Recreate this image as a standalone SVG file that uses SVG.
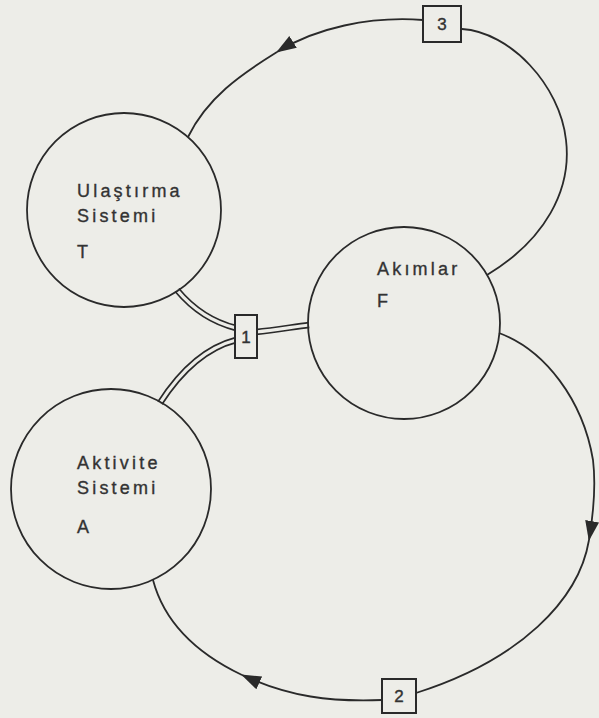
<svg xmlns="http://www.w3.org/2000/svg" width="599" height="718" viewBox="0 0 599 718">
<style>
.bg{fill:#edede8}
.node{fill:none;stroke:#2a2a2a;stroke-width:1.8}
.lbl{font-family:"Liberation Sans","DejaVu Sans",sans-serif;font-size:18px;letter-spacing:3.2px;fill:#333;stroke:#333;stroke-width:0.35}
.arc{fill:none;stroke:#2a2a2a;stroke-width:1.8}
.dblo{fill:none;stroke:#2a2a2a;stroke-width:6.5}
.dbli{fill:none;stroke:#edede8;stroke-width:3.2}
.box{fill:#edede8;stroke:#2a2a2a;stroke-width:2}
.num{font-family:"Liberation Sans","DejaVu Sans",sans-serif;font-size:17px;fill:#333;stroke:#333;stroke-width:0.4;text-anchor:middle}
</style>
<defs>
<marker id="ah" markerUnits="userSpaceOnUse" markerWidth="24" markerHeight="16" refX="19" refY="7" orient="auto">
<path d="M0,0 L20,7 L0,14 Z" fill="#2a2a2a"/>
</marker>
</defs>
<rect class="bg" x="0" y="0" width="599" height="718"/>
<g id="connectors">
<path class="dblo" d="M 177 290 C 192 308, 212 322, 236 328"/>
<path class="dbli" d="M 177 290 C 192 308, 212 322, 236 328"/>
<path class="dblo" d="M 160 403 C 180 372, 205 348, 236 340"/>
<path class="dbli" d="M 160 403 C 180 372, 205 348, 236 340"/>
<path class="dblo" d="M 256 332 C 275 330, 293 327, 309 325"/>
<path class="dbli" d="M 256 332 C 275 330, 293 327, 309 325"/>
<path class="arc" d="M 487 275 C 545 240, 572 190, 566 140 C 560 85, 510 32, 462 29"/>
<path class="arc" marker-end="url(#ah)" d="M 423 20 C 370 16, 315 28, 277 52"/>
<path class="arc" d="M 277 52 C 240 75, 207 98, 188 137"/>
<path class="arc" marker-end="url(#ah)" d="M 499 333 C 545 350, 583 400, 593 460 C 596 485, 594 510, 589 540"/>
<path class="arc" d="M 589 540 C 579 600, 520 660, 416 693"/>
<path class="arc" marker-end="url(#ah)" d="M 382 700 C 330 702, 290 697, 242 675"/>
<path class="arc" d="M 242 675 C 200 655, 165 625, 153 580"/>
</g>
<g id="node-T">
<circle class="node" cx="124" cy="210" r="97"/>
<text class="lbl" x="77" y="197">Ulaştırma</text>
<text class="lbl" x="77" y="222">Sistemi</text>
<text class="lbl" x="77" y="258">T</text>
</g>
<g id="node-F">
<circle class="node" cx="404" cy="323" r="96"/>
<text class="lbl" x="377" y="275">Akımlar</text>
<text class="lbl" x="377" y="307">F</text>
</g>
<g id="node-A">
<circle class="node" cx="111" cy="489" r="100"/>
<text class="lbl" x="77" y="469">Aktivite</text>
<text class="lbl" x="77" y="494">Sistemi</text>
<text class="lbl" x="77" y="533">A</text>
</g>
<g id="box-1">
<rect class="box" x="235" y="315" width="22" height="43"/>
<text class="num" x="246" y="343">1</text>
</g>
<g id="box-2">
<rect class="box" x="382" y="679" width="34" height="34"/>
<text class="num" x="399" y="702">2</text>
</g>
<g id="box-3">
<rect class="box" x="423" y="6" width="38" height="36"/>
<text class="num" x="442" y="30">3</text>
</g>
</svg>
